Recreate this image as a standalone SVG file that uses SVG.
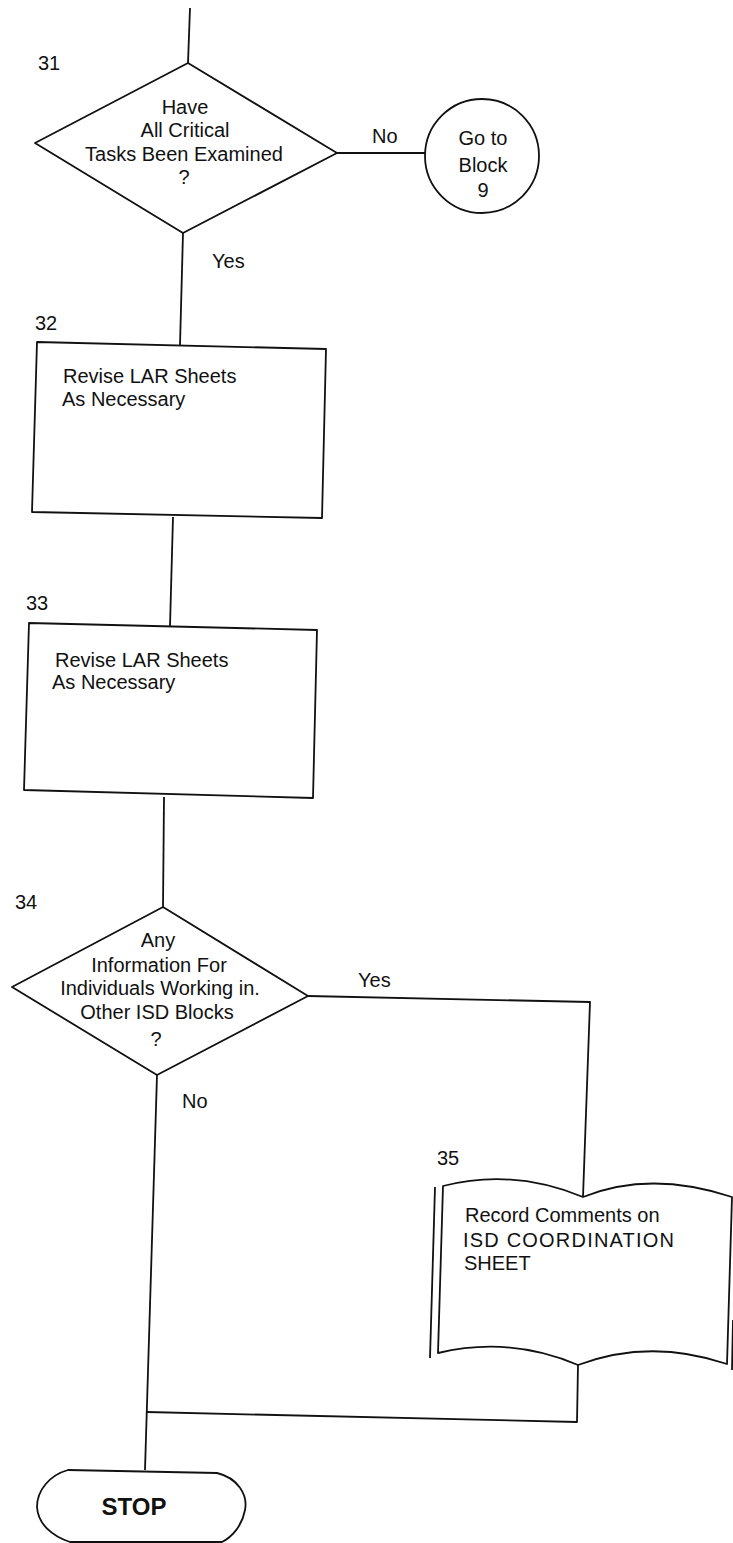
<svg xmlns="http://www.w3.org/2000/svg" width="733" height="1543" viewBox="0 0 733 1543">
<style>
.s{fill:none;stroke:#111;stroke-width:1.8;stroke-linejoin:round}
.n{fill:#fff;stroke:#111;stroke-width:1.8;stroke-linejoin:round}
text{font-family:"Liberation Sans",Arial,sans-serif;font-size:20px;fill:#111}
.c{text-anchor:middle}
.b{font-weight:bold;font-size:24px}
</style>
<rect x="0" y="0" width="733" height="1543" fill="#fff"/>
<g id="connectors">
<path class="s" d="M190 8 L188 63"/>
<path class="s" d="M337 153 L425 153"/>
<path class="s" d="M183 233 L180 345"/>
<path class="s" d="M173 517 L170 626"/>
<path class="s" d="M164 797 L163 907"/>
<path class="s" d="M308 996 L590 1002 L583 1197"/>
<path class="s" d="M157 1075 L145 1470"/>
<path class="s" d="M578 1365 L577 1422 L147 1412"/>
<text x="372" y="143">No</text>
<text x="212" y="268">Yes</text>
<text x="358" y="987">Yes</text>
<text x="182" y="1108">No</text>
</g>
<g id="n31">
<polygon class="n" points="188,63 337,153 183,233 35,143"/>
<text x="38" y="70">31</text>
<text class="c" x="185" y="114">Have</text>
<text class="c" x="185" y="137">All Critical</text>
<text class="c" x="184" y="161">Tasks Been Examined</text>
<text class="c" x="184" y="184">?</text>
</g>
<g id="goto9">
<circle class="n" cx="482" cy="156" r="57"/>
<text class="c" x="483" y="145">Go to</text>
<text class="c" x="483" y="172">Block</text>
<text class="c" x="483" y="197">9</text>
</g>
<g id="n32">
<polygon class="n" points="37,342 326,349 322,518 32,512"/>
<text x="35" y="330">32</text>
<text x="63" y="383">Revise LAR Sheets</text>
<text x="62" y="406">As Necessary</text>
</g>
<g id="n33">
<polygon class="n" points="29,623 317,630 313,798 24,790"/>
<text x="26" y="610">33</text>
<text x="55" y="667">Revise LAR Sheets</text>
<text x="52" y="689">As Necessary</text>
</g>
<g id="n34">
<polygon class="n" points="163,907 308,996 157,1075 12,987"/>
<text x="15" y="909">34</text>
<text class="c" x="158" y="947">Any</text>
<text class="c" x="159" y="972">Information For</text>
<text class="c" x="160" y="995">Individuals Working in.</text>
<text class="c" x="157" y="1019">Other ISD Blocks</text>
<text class="c" x="156" y="1046">?</text>
</g>
<g id="n35">
<path class="n" d="M443 1186 Q513 1168 583 1197 Q650 1170 732 1197 L727 1364 Q650 1338 578 1365 Q510 1336 438 1353 Z"/>
<path class="s" d="M435 1187 L430 1358"/>
<path class="s" d="M733 1320 L732 1370"/>
<text x="437" y="1165">35</text>
<text x="465" y="1222">Record Comments on</text>
<text x="463" y="1247" letter-spacing="1.2">ISD COORDINATION</text>
<text x="464" y="1270">SHEET</text>
</g>
<g id="stop">
<path class="n" d="M68 1470 L217 1473 C238 1478 248 1495 245 1510 C242 1526 232 1537 222 1542 L70 1542 C52 1536 38 1524 37 1507 C37 1490 50 1475 68 1470 Z"/>
<text class="c b" x="134" y="1515">STOP</text>
</g>
</svg>
